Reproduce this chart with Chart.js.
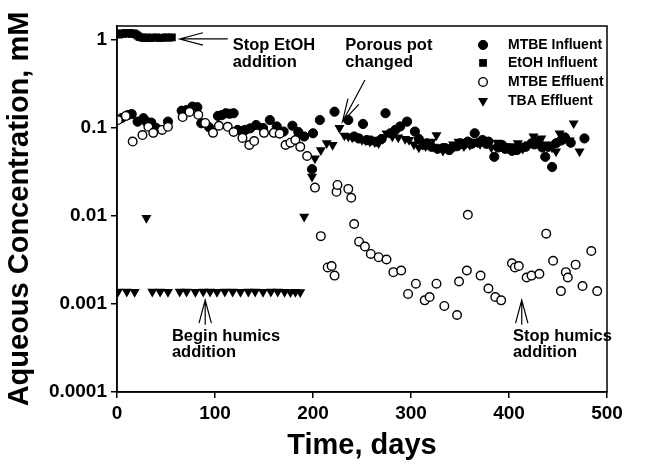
<!DOCTYPE html>
<html>
<head>
<meta charset="utf-8">
<script src="https://cdn.jsdelivr.net/npm/chart.js@4.4.1/dist/chart.umd.min.js"></script>
<style>
  html, body { margin: 0; padding: 0; background: #fff; }
</style>
</head>
<body>
<canvas id="c" width="654" height="467"></canvas>
<script>
// ejes
const X_TICKS = [0, 100, 200, 300, 400, 500];
const Y_TICKS = [0.0001, 0.001, 0.01, 0.1, 1];

// series [día, mM]
const ETOH_INF = [[2,1.15],[4,1.19],[6,1.17],[9,1.2],[11,1.18],[13,1.2],[15,1.17],[17,1.19],[19,1.16],[21,1.12],[23,1.08],
  [26,1.06],[28,1.05],[31,1.07],[34,1.05],[37,1.06],[40,1.07],[44,1.05],[47,1.06],[50,1.07],[53,1.06],[56,1.07]];

const MTBE_INF = [[5,0.13],[11,0.14],[15,0.144],[21,0.118],[27,0.129],[30,0.118],[35,0.115],[40,0.1],[52,0.118],
  [66,0.157],[71,0.16],[77,0.175],[82,0.172],[86,0.113],[94,0.102],[103,0.137],[107,0.14],[111,0.147],[115,0.145],[119,0.147],
  [123,0.095],[128,0.093],[131,0.095],[136,0.099],[142,0.108],[149,0.1],[156,0.123],[163,0.104],[170,0.091],[179,0.106],
  [185,0.09],[191,0.08],[199,0.034],[200,0.087],[207,0.123],[222,0.153],[236,0.123],[242,0.08],[247,0.076],[251,0.111],
  [255,0.073],[259,0.072],[265,0.07],[270,0.075],[274,0.147],[279,0.087],[284,0.095],[289,0.104],[296,0.118],[304,0.091],
  [308,0.075],[313,0.064],[316,0.067],[321,0.061],[327,0.058],[332.6,0.059],[335,0.059],[339,0.056],[343,0.061],[347,0.062],
  [350,0.067],[354,0.065],[358,0.07],[362,0.066],[365,0.087],[369,0.068],[373,0.073],[377,0.066],[379,0.07],[385,0.047],
  [389,0.06],[393,0.064],[396,0.058],[399,0.059],[403,0.055],[408,0.056],[412,0.06],[417,0.061],[423,0.067],[426,0.065],
  [430,0.07],[434,0.06],[437,0.047],[440,0.061],[444,0.036],[448,0.067],[453,0.072],[457,0.078],[463,0.068],[477,0.076]];

const MTBE_EFF = [[1,0.123],[9,0.137],[16,0.07],[26,0.083],[32,0.103],[37,0.088],[46,0.095],[52,0.103],[67,0.133],[74,0.152],
  [83,0.141],[90,0.114],[98,0.088],[104,0.106],[113,0.103],[119,0.09],[128,0.077],[135,0.064],[140,0.071],[150,0.088],
  [160,0.088],[166,0.086],[172,0.064],[177,0.068],[182,0.073],[187,0.061],[194,0.048],[202,0.021],[208,0.0059],[215,0.0026],
  [219,0.0027],[222,0.0021],[224,0.0188],[225,0.0225],[236,0.0203],[239,0.0161],[242,0.0081],[247,0.0051],[253,0.0045],
  [259,0.0037],[267,0.0034],[275,0.0032],[282,0.0023],[290,0.0024],[297,0.0013],[305,0.0017],[314,0.0011],[319,0.0012],
  [326,0.0017],[334,0.00095],[347,0.00075],[349,0.0018],[357,0.0024],[358,0.0103],[371,0.0021],[379,0.0015],[386,0.0012],
  [392,0.0011],[403,0.0029],[406,0.0026],[410,0.0027],[418,0.002],[423,0.0021],[431,0.0022],[438,0.0063],[445,0.0031],
  [453,0.0014],[458,0.0023],[460,0.002],[468,0.0028],[475,0.0016],[484,0.004],[490,0.0014]];

const TBA_EFF = [[1,0.00138],[10,0.00138],[18,0.00137],[30,0.0095],[36,0.00138],[44,0.00138],[52,0.00137],[64,0.00138],
  [71,0.00138],[80,0.00137],[88,0.00138],[95,0.00138],[102,0.00137],[110,0.00138],[118,0.00138],[126,0.00137],[134,0.00138],
  [141,0.00138],[149,0.00137],[157,0.00138],[164,0.00138],[171,0.00137],[177,0.00136],[182,0.00137],[187,0.00136],[191,0.0098],
  [199,0.028],[202,0.045],[208,0.056],[214,0.067],[220,0.064],[227,0.1],[232,0.082],[236,0.08],[240,0.078],[245,0.077],
  [250,0.073],[254,0.072],[258,0.07],[263,0.069],[267,0.067],[271,0.075],[275,0.087],[281,0.08],[287,0.078],[294,0.075],
  [298,0.073],[303,0.065],[308,0.06],[315,0.062],[321,0.07],[326,0.083],[332.6,0.055],[337,0.06],[343,0.065],[348.5,0.07],
  [354,0.062],[360,0.064],[365,0.07],[370.5,0.066],[377,0.072],[382,0.06],[388,0.068],[393.5,0.06],[399,0.059],[405,0.062],
  [409,0.067],[414,0.058],[420,0.065],[425,0.08],[429,0.07],[433,0.076],[438.5,0.065],[444,0.06],[448,0.054],[451.6,0.087],
  [457,0.075],[462,0.072],[466,0.113],[472,0.054]];

const LEGEND_LABELS = ['MTBE Influent', 'EtOH Influent', 'MTBE Effluent', 'TBA Effluent'];
const LEGEND_Y = [0.877, 0.548, 0.333, 0.203];

const NOTES = [
  { lines: ['Stop EtOH', 'addition'], x: 118, y: [0.877, 0.548] },
  { lines: ['Porous pot', 'changed'], x: 233, y: [0.877, 0.548] },
  { lines: ['Begin humics', 'addition'], x: 56, y: [0.00043, 0.00028] },
  { lines: ['Stop humics', 'addition'], x: 404, y: [0.00043, 0.00028] },
];
const ARROWS = [
  { from: [113, 1.026], to: [64, 1.026] },
  { from: [253, 0.35], to: [230, 0.117] },
  { from: [90, 0.00058], to: [90, 0.00111] },
  { from: [413, 0.00058], to: [413, 0.00111] },
];

const FONT = "'Liberation Sans', Arial, sans-serif";

const toXY = (arr) => arr.map(([x, y]) => ({ x, y }));

const STYLES = [
  { pointStyle: 'circle', radius: 4.6, bg: '#000', bw: 1, rot: 0 },     // MTBE Influent
  { pointStyle: 'rect', radius: 5.5, bg: '#000', bw: 0, rot: 0 },       // EtOH Influent
  { pointStyle: 'circle', radius: 4.3, bg: '#fff', bw: 1.4, rot: 0 },   // MTBE Effluent
  { pointStyle: 'triangle', radius: 5.8, bg: '#000', bw: 0, rot: 180 }, // TBA Effluent
];

function ds(label, data, st, order) {
  return {
    label, data: toXY(data), order,
    pointStyle: st.pointStyle, pointRadius: st.radius, pointRotation: st.rot,
    pointBackgroundColor: st.bg, pointBorderColor: '#000', pointBorderWidth: st.bw,
    pointHoverRadius: st.radius, showLine: false,
  };
}

function drawMarker(ctx, st, x, y) {
  ctx.save();
  ctx.fillStyle = st.bg;
  ctx.strokeStyle = '#000';
  ctx.lineWidth = st.bw;
  ctx.beginPath();
  if (st.pointStyle === 'circle') {
    ctx.arc(x, y, st.radius, 0, Math.PI * 2);
  } else if (st.pointStyle === 'rect') {
    const s = st.radius * Math.SQRT1_2;
    ctx.rect(x - s, y - s, 2 * s, 2 * s);
  } else {
    const r = st.radius;
    ctx.moveTo(x, y + r);
    ctx.lineTo(x - r * Math.sin(Math.PI / 3), y - r / 2);
    ctx.lineTo(x + r * Math.sin(Math.PI / 3), y - r / 2);
    ctx.closePath();
  }
  ctx.fill();
  if (st.bw) ctx.stroke();
  ctx.restore();
}

const decor = {
  id: 'decor',
  afterDraw(chart) {
    const { ctx, chartArea: a, scales: { x, y } } = chart;
    ctx.save();
    ctx.strokeStyle = '#000';
    ctx.lineWidth = 1.5;
    ctx.strokeRect(a.left, a.top, a.right - a.left, a.bottom - a.top);

    ctx.fillStyle = '#000';
    ctx.textBaseline = 'middle';
    ctx.textAlign = 'left';

    // leyenda
    ctx.font = `bold 14px ${FONT}`;
    const mx = x.getPixelForValue(373.5), tx = x.getPixelForValue(399);
    LEGEND_LABELS.forEach((lab, i) => {
      const py = y.getPixelForValue(LEGEND_Y[i]);
      drawMarker(ctx, STYLES[i], mx, py);
      ctx.fillText(lab, tx, py);
    });

    // notas
    ctx.font = `bold 16.5px ${FONT}`;
    NOTES.forEach(n => {
      n.lines.forEach((t, i) => ctx.fillText(t, x.getPixelForValue(n.x), y.getPixelForValue(n.y[i])));
    });

    // flechas
    ctx.lineWidth = 1.2;
    ARROWS.forEach(ar => {
      const x0 = x.getPixelForValue(ar.from[0]), y0 = y.getPixelForValue(ar.from[1]);
      const x1 = x.getPixelForValue(ar.to[0]), y1 = y.getPixelForValue(ar.to[1]);
      const ang = Math.atan2(y0 - y1, x0 - x1);
      const L = 24, w = 0.26;
      ctx.beginPath();
      ctx.moveTo(x0, y0); ctx.lineTo(x1, y1);
      ctx.moveTo(x1 + L * Math.cos(ang - w), y1 + L * Math.sin(ang - w));
      ctx.lineTo(x1, y1);
      ctx.lineTo(x1 + L * Math.cos(ang + w), y1 + L * Math.sin(ang + w));
      ctx.stroke();
    });
    ctx.restore();
  }
};

new Chart(document.getElementById('c'), {
  type: 'scatter',
  data: {
    datasets: [
      ds('MTBE Effluent', MTBE_EFF, STYLES[2], 0),
      ds('TBA Effluent', TBA_EFF, STYLES[3], 1),
      ds('MTBE Influent', MTBE_INF, STYLES[0], 2),
      ds('EtOH Influent', ETOH_INF, STYLES[1], 3),
    ],
  },
  options: {
    responsive: false,
    animation: false,
    layout: { padding: { top: 26, right: 47, left: 0, bottom: 0 } },
    plugins: { legend: { display: false }, tooltip: { enabled: false } },
    scales: {
      x: {
        type: 'linear', min: 0, max: 500,
        afterBuildTicks: (s) => { s.ticks = X_TICKS.map(v => ({ value: v })); },
        afterFit: (s) => { s.height = 75; },
        grid: { drawOnChartArea: false, tickLength: 6, color: '#000', lineWidth: 1.5 },
        border: { color: '#000', width: 1.5 },
        ticks: { color: '#000', padding: 4, maxRotation: 0, font: { family: FONT, size: 19, weight: 'bold' } },
        title: { display: true, text: 'Time, days', color: '#000', padding: { top: 0, bottom: 4 },
                 font: { family: FONT, size: 29, weight: 'bold' } },
      },
      y: {
        type: 'logarithmic', min: 0.0001, max: 1.44,
        afterBuildTicks: (s) => { s.ticks = Y_TICKS.map(v => ({ value: v })); },
        afterFit: (s) => { s.width = 117; },
        grid: { drawOnChartArea: false, tickLength: 6, color: '#000', lineWidth: 1.5 },
        border: { color: '#000', width: 1.5 },
        ticks: { color: '#000', padding: 4, callback: (v) => String(v),
                 font: { family: FONT, size: 19, weight: 'bold' } },
        title: { display: true, text: 'Aqueous Concentration, mM', color: '#000', padding: { top: 3, bottom: 0 },
                 font: { family: FONT, size: 29, weight: 'bold' } },
      },
    },
  },
  plugins: [decor],
});
</script>
</body>
</html>
